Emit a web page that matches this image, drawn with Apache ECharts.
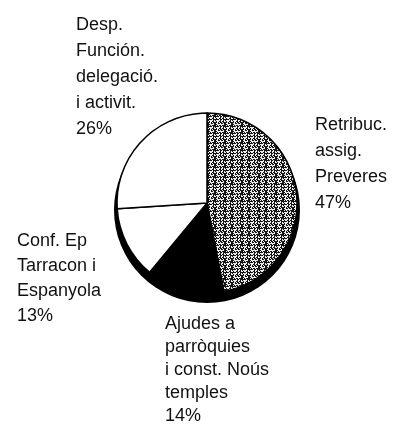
<!DOCTYPE html>
<html>
<head>
<meta charset="utf-8">
<script src="https://cdn.jsdelivr.net/npm/echarts@6/dist/echarts.min.js"></script>
<style>
  html, body { margin: 0; padding: 0; background: #fff; }
  #chart { width: 406px; height: 426px; }
</style>
</head>
<body>
<div id="chart"></div>
<script>
var categories = [
    'Retribuc.\nassig.\nPreveres',
    'Ajudes a\nparròquies\ni const. Noús\ntemples',
    'Conf. Ep\nTarracon i\nEspanyola',
    'Desp.\nFunción.\ndelegació.\ni activit.'
];
var shares = [47, 14, 13, 26];

// stippled grey texture for the first slice
function stipple() {
    var n = 17;
    var c = document.createElement('canvas');
    c.width = n;
    c.height = n;
    var ctx = c.getContext('2d');
    ctx.fillStyle = '#ededed';
    ctx.fillRect(0, 0, n, n);
    ctx.fillStyle = '#151515';
    for (var y = 0; y < n; y++) {
        for (var x = 0; x < n; x++) {
            if ((x * x * 3 + y * y * 5 + x * y * 2 + x) % 7 < 4) {
                ctx.fillRect(x, y, 1, 1);
            }
        }
    }
    return c;
}

var fills = [
    { image: stipple(), repeat: 'repeat' },
    '#000',
    '#fff',
    '#fff'
];
// label box (left, top, line height) per slice
var labelBoxes = [
    [315, 112, 26],
    [165, 313, 23],
    [17, 229, 25],
    [76, 12, 26]
];

var chart = echarts.init(document.getElementById('chart'), null, { renderer: 'canvas' });

var pieData = categories.map(function (name, i) {
    return {
        name: name,
        value: shares[i],
        itemStyle: { color: fills[i] },
        label: { lineHeight: labelBoxes[i][2] }
    };
});

var option = {
    animation: false,
    backgroundColor: '#fff',
    series: [
        {
            // dark rim under the pie
            type: 'pie',
            silent: true,
            center: [207, 210],
            radius: [0, 93],
            label: { show: false },
            labelLine: { show: false },
            itemStyle: { color: '#000', borderWidth: 0 },
            data: [{ name: '', value: 1 }],
            z: 1
        },
        {
            type: 'pie',
            center: [207, 203],
            radius: [0, 90],
            startAngle: 90,
            clockwise: true,
            z: 2,
            itemStyle: {
                borderColor: '#000',
                borderWidth: 1.5
            },
            label: {
                show: true,
                position: 'outside',
                formatter: '{b}\n{d}%',
                fontFamily: 'Liberation Sans, Arial, sans-serif',
                fontSize: 18,
                color: '#111',
                align: 'left',
                overflow: 'none'
            },
            labelLine: { show: false },
            labelLayout: function (params) {
                var b = labelBoxes[params.dataIndex];
                return {
                    x: b[0],
                    y: b[1],
                    align: 'left',
                    verticalAlign: 'top'
                };
            },
            emphasis: { disabled: true },
            data: pieData
        }
    ]
};

chart.setOption(option);
</script>
</body>
</html>
